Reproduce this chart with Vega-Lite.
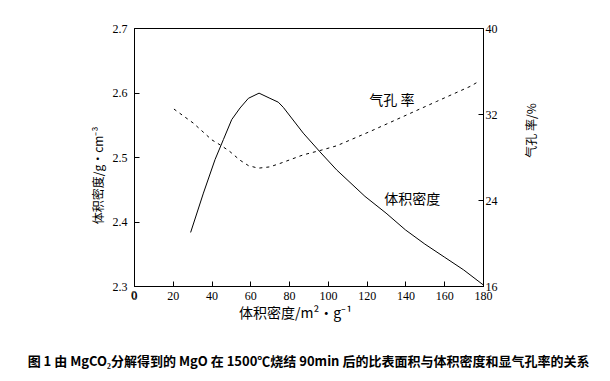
{
  "$schema": "https://vega.github.io/schema/vega-lite/v6.json",
  "width": 349,
  "height": 258,
  "autosize": {"type": "none"},
  "padding": {"left": 134, "top": 28, "right": 127, "bottom": 95},
  "background": "white",
  "config": {
    "view": {"stroke": "black", "strokeWidth": 1},
    "axis": {
      "domainColor": "black", "tickColor": "black", "labelColor": "black", "titleColor": "black",
      "labelFont": "Liberation Serif", "labelFontSize": 12,
      "titleFont": "Noto Sans CJK SC", "titleFontSize": 12, "titleFontWeight": "normal",
      "grid": false, "tickSize": -5, "labelPadding": 6, "labelOverlap": false, "labelFlush": false, "labelBound": false
    },
    "title": {"font": "Noto Sans CJK SC", "fontSize": 13, "fontWeight": "bold", "color": "black"}
  },
  "title": {"text": "图 1 由 MgCO₂分解得到的 MgO 在 1500℃烧结 90min 后的比表面积与体积密度和显气孔率的关系", "orient": "bottom", "offset": 36, "anchor": "middle"},
  "datasets": {
    "density": [
      {"x": 29.2, "y": 2.383}, {"x": 35.8, "y": 2.444}, {"x": 41.8, "y": 2.496}, {"x": 46.1, "y": 2.527},
      {"x": 50.4, "y": 2.558}, {"x": 54.7, "y": 2.576}, {"x": 59, "y": 2.591}, {"x": 64.5, "y": 2.599},
      {"x": 70.1, "y": 2.591}, {"x": 74.4, "y": 2.585}, {"x": 77, "y": 2.577}, {"x": 87.3, "y": 2.537},
      {"x": 95.9, "y": 2.508}, {"x": 104.5, "y": 2.48}, {"x": 119.1, "y": 2.439}, {"x": 130, "y": 2.413},
      {"x": 140, "y": 2.387}, {"x": 150, "y": 2.365}, {"x": 160, "y": 2.345}, {"x": 170, "y": 2.325},
      {"x": 180, "y": 2.302}
    ],
    "porosity": [
      {"x": 20.6, "y": 32.46}, {"x": 30.6, "y": 31.15}, {"x": 40.1, "y": 29.6}, {"x": 45.2, "y": 29.04},
      {"x": 49.5, "y": 28.5}, {"x": 54.7, "y": 27.7}, {"x": 59, "y": 27.2}, {"x": 64.1, "y": 26.96},
      {"x": 70, "y": 27.08}, {"x": 75.3, "y": 27.4}, {"x": 87.3, "y": 28.2}, {"x": 95.9, "y": 28.6},
      {"x": 104.5, "y": 29.04}, {"x": 121.7, "y": 30.37}, {"x": 138.9, "y": 31.77}, {"x": 156.1, "y": 33.17},
      {"x": 173.3, "y": 34.56}, {"x": 177.5, "y": 35.0}
    ],
    "labelsD": [{"x": 143.5, "y": 2.433, "t": "体积密度"}],
    "labelsP": [{"x": 133, "y": 33.2, "t": "气孔  率"}],
    "zeroLabel": [{"x": 0, "y": 2.3, "t": "0"}]
  },
  "encoding": {
    "x": {"field": "x", "type": "quantitative", "scale": {"domain": [0, 180], "nice": false, "zero": false},
          "axis": {"values": [0, 20, 40, 60, 80, 100, 120, 140, 160, 180], "labelExpr": "format(datum.value, 'd')", "labelOverlap": false, "labelFlush": false, "title": "体积密度/m²·g⁻¹", "titleFontSize": 14, "titleX": 161, "titleY": 20, "titleBaseline": "top", "labelPadding": 9}}
  },
  "layer": [
    {
      "data": {"name": "density"},
      "mark": {"type": "line", "color": "black", "strokeWidth": 1},
      "encoding": {
        "y": {"field": "y", "type": "quantitative", "scale": {"domain": [2.3, 2.7], "nice": false, "zero": false},
              "axis": {"values": [2.3, 2.4, 2.5, 2.6, 2.7], "labelOverlap": false, "format": ".1f", "labelPadding": 12, "title": "体积密度/g·cm⁻³", "titleY": 147, "titleX": -36, "titleAngle": -90, "titleAlign": "center", "titleBaseline": "middle"}}
      }
    },
    {
      "data": {"name": "porosity"},
      "mark": {"type": "line", "color": "black", "strokeWidth": 1, "strokeDash": [3, 4]},
      "encoding": {
        "y": {"field": "y", "type": "quantitative", "scale": {"domain": [16, 40], "nice": false, "zero": false},
              "axis": {"orient": "right", "values": [16, 24, 32, 40], "labelOverlap": false, "labelPadding": 7, "title": "气孔  率/%", "titleY": 102, "titleX": 48, "titleAngle": -90, "titleAlign": "center", "titleBaseline": "middle"}}
      }
    },
    {
      "data": {"name": "labelsD"},
      "mark": {"type": "text", "font": "Noto Sans CJK SC", "fontSize": 14, "color": "black"},
      "encoding": {
        "y": {"field": "y", "type": "quantitative", "scale": {"domain": [2.3, 2.7], "nice": false, "zero": false}, "axis": null},
        "text": {"field": "t"}
      }
    },
    {
      "data": {"name": "labelsP"},
      "mark": {"type": "text", "font": "Noto Sans CJK SC", "fontSize": 14, "color": "black"},
      "encoding": {
        "y": {"field": "y", "type": "quantitative", "scale": {"domain": [16, 40], "nice": false, "zero": false}, "axis": null},
        "text": {"field": "t"}
      }
    },
    {
      "data": {"name": "zeroLabel"},
      "mark": {"type": "text", "font": "Liberation Serif", "fontSize": 12, "color": "black", "baseline": "top", "dy": 4},
      "encoding": {
        "y": {"field": "y", "type": "quantitative", "scale": {"domain": [2.3, 2.7], "nice": false, "zero": false}, "axis": null},
        "text": {"field": "t"}
      }
    }
  ],
  "resolve": {"scale": {"y": "independent"}}
}
